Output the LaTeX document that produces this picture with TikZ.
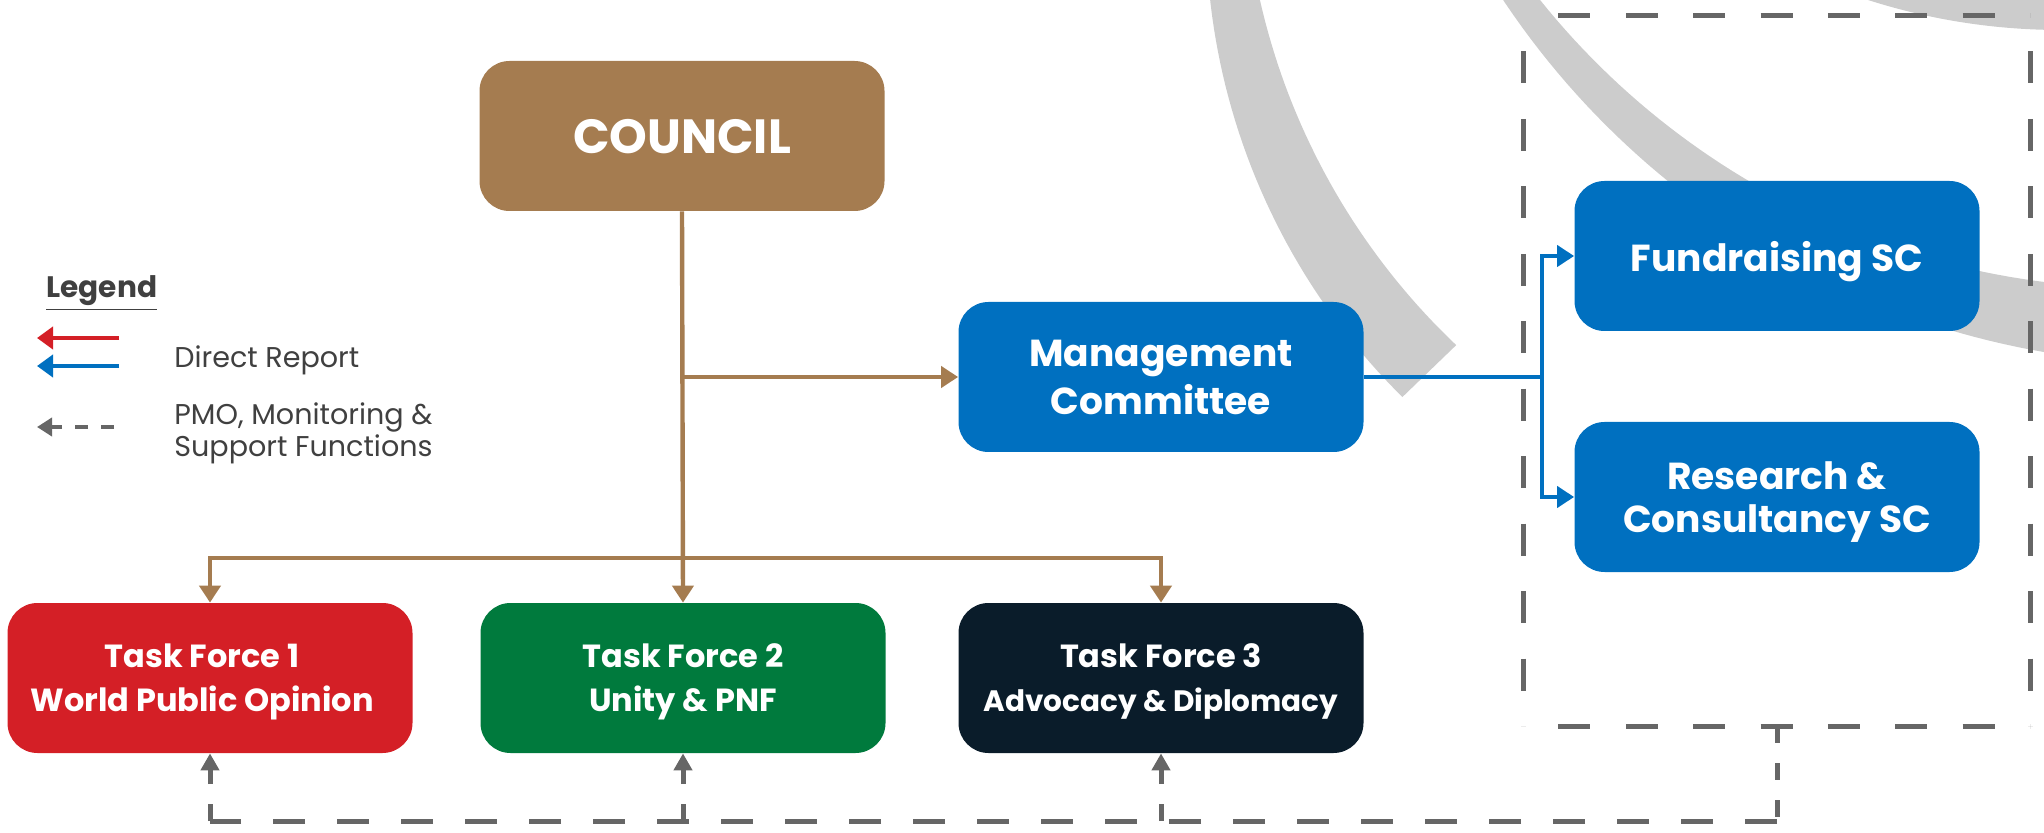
\documentclass[tikz,border=0pt]{standalone}
\usepackage{fontspec}
\setmainfont{Poppins}
\usetikzlibrary{arrows.meta}
\usetikzlibrary{positioning}
\usetikzlibrary{decorations}

\definecolor{councilbrown}{HTML}{A57C50}
\definecolor{mcblue}{HTML}{0070C0}
\definecolor{tfred}{HTML}{D41F26}
\definecolor{tfgreen}{HTML}{007A3D}
\definecolor{tfnavy}{HTML}{0A1C2A}
\definecolor{pmogray}{HTML}{666666}
\definecolor{arcgray}{HTML}{CCCCCC}
\definecolor{legendtext}{HTML}{404040}

\tikzset{
  orgbox/.style={rounded corners=15pt, minimum width=202.5pt, minimum height=75pt,
    text=white, align=center, inner sep=0pt, text depth=-2pt},
  reportline/.style={line width=2.2pt, -{Triangle[length=8.5pt, width=10.5pt]}},
  pmoline/.style={pmogray, line width=2.5pt, dash pattern=on 16pt off 16pt},
  pmostub/.style={pmogray, line width=2.5pt, dash pattern=on 8.5pt off 10pt},
  legendtxt/.style={text=legendtext, anchor=base west, inner sep=0pt,
    font=\fontsize{14.3}{17}\selectfont}
}

\begin{document}
\begin{tikzpicture}[x=0.5pt, y=-0.5pt]
        \useasboundingbox (0,0) rectangle (2044,833);
        % background arcs
        \begin{scope}
          \clip (0,0) rectangle (2044,833);
          \fill[arcgray] plot[domain=175.4:134.7, samples=40] ({1868+662*cos(\x)}, {-73.5+662*sin(\x)})
            -- plot[domain=133.5:169, samples=40] ({1927+684*cos(\x)}, {-151+684*sin(\x)}) -- cycle;
          \fill[arcgray] plot[domain=148:98.66, samples=50] ({2183+817*cos(\x)}, {-453+817*sin(\x)})
            -- plot[domain=95.97:143.2, samples=50] ({2140+769*cos(\x)}, {-481+769*sin(\x)}) -- cycle;
          \fill[arcgray] (2061,-602) circle[radius=632];
        \end{scope}

        % steering committees group
        \coordinate (scgrpnw) at (1523,16);
        \coordinate (scgrpse) at (2030,726);
        \draw[pmoline, dash expand off] (scgrpnw) -- (scgrpnw -| scgrpse);
        \draw[pmoline, dash expand off] (scgrpnw -| scgrpse) -- (scgrpse);
        \draw[pmoline, dash expand off] (scgrpnw |- scgrpse) -- (scgrpse);
        \draw[pmoline, dash expand off] (scgrpnw) -- (scgrpnw |- scgrpse);

        % boxes
        \node[orgbox, fill=councilbrown, text depth=-7pt, font=\bfseries\fontsize{24}{28}\selectfont] (council) at (682,136) {COUNCIL};
        \node[orgbox, fill=mcblue, font=\bfseries\fontsize{18.8}{24}\selectfont] (mgmt) at (1161,377) {Management\\Committee};
        \node[orgbox, fill=mcblue, font=\bfseries\fontsize{18.8}{21.5}\selectfont] (fund) at (1777,256) {Fundraising SC};
        \node[orgbox, fill=mcblue, font=\bfseries\fontsize{18.8}{21.5}\selectfont] (research) at (1777,497) {Research \&\\Consultancy SC};
        \node[orgbox, fill=tfred, font=\bfseries\fontsize{16}{22}\selectfont] (tf1) at (210,678) {Task Force 1\hspace*{8pt}\\World Public Opinion\hspace*{8pt}};
        \node[orgbox, fill=tfgreen, font=\bfseries\fontsize{16}{22}\selectfont] (tf2) at (683,678) {Task Force 2\\Unity \& PNF};
        \node[orgbox, fill=tfnavy, font=\bfseries\fontsize{16}{22}\selectfont] (tf3) at (1161,678) {Task Force 3\\\fontsize{14.75}{22}\selectfont Advocacy \& Diplomacy};

        % direct reports
        \coordinate (mcfork) at (council.south |- mgmt.west);
        \coordinate (tfbar) at (682,558);
        \draw[reportline, councilbrown] (council.south) -- (tf2.north);
        \draw[reportline, councilbrown] (mcfork) -- (mgmt.west);
        \draw[reportline, councilbrown] (tfbar) -| (tf1.north);
        \draw[reportline, councilbrown] (tfbar) -| (tf3.north);
        \coordinate (scfork) at (1542,377);
        \draw[mcblue, line width=2pt] (mgmt.east) -- (scfork);
        \draw[reportline, mcblue, line width=2pt] (scfork) |- (fund.west);
        \draw[reportline, mcblue, line width=2pt] (scfork) |- (research.west);

        % PMO, monitoring and support
        \coordinate (pmoelbow) at (1777,821);
        \draw[pmostub] (research |- scgrpse) -- (pmoelbow);
        \draw[pmoline] (pmoelbow) -- (pmoelbow -| tf1);
        \foreach \tf in {tf1, tf2, tf3}
          \draw[pmostub, -{Triangle[length=8.5pt, width=9pt]}] (pmoelbow -| \tf) -- (\tf.south);

        % legend
        \node[legendtxt, font=\bfseries\fontsize{14.8}{17}\selectfont] (lgtitle) at (46,298) {\underline{Legend}};
        \draw[tfred, line width=2.3pt, -{Triangle[length=8pt, width=11pt]}] (119,338) -- (37,338);
        \draw[mcblue, line width=2.3pt, -{Triangle[length=8pt, width=11pt]}] (119,366) -- (37,366);
        \node[legendtxt] (lgdirect) at (174,368) {Direct Report};
        \draw[pmogray, line width=2.2pt, dash pattern=on 6.5pt off 6.5pt, -{Triangle[length=7.5pt, width=9pt]}] (114,427) -- (37,427);
        \node[legendtxt] (lgpmo) at (174,425) {PMO, Monitoring \&};
        \node[legendtxt] (lgsupport) at (174,457) {Support Functions};
      \end{tikzpicture}
\end{document}
